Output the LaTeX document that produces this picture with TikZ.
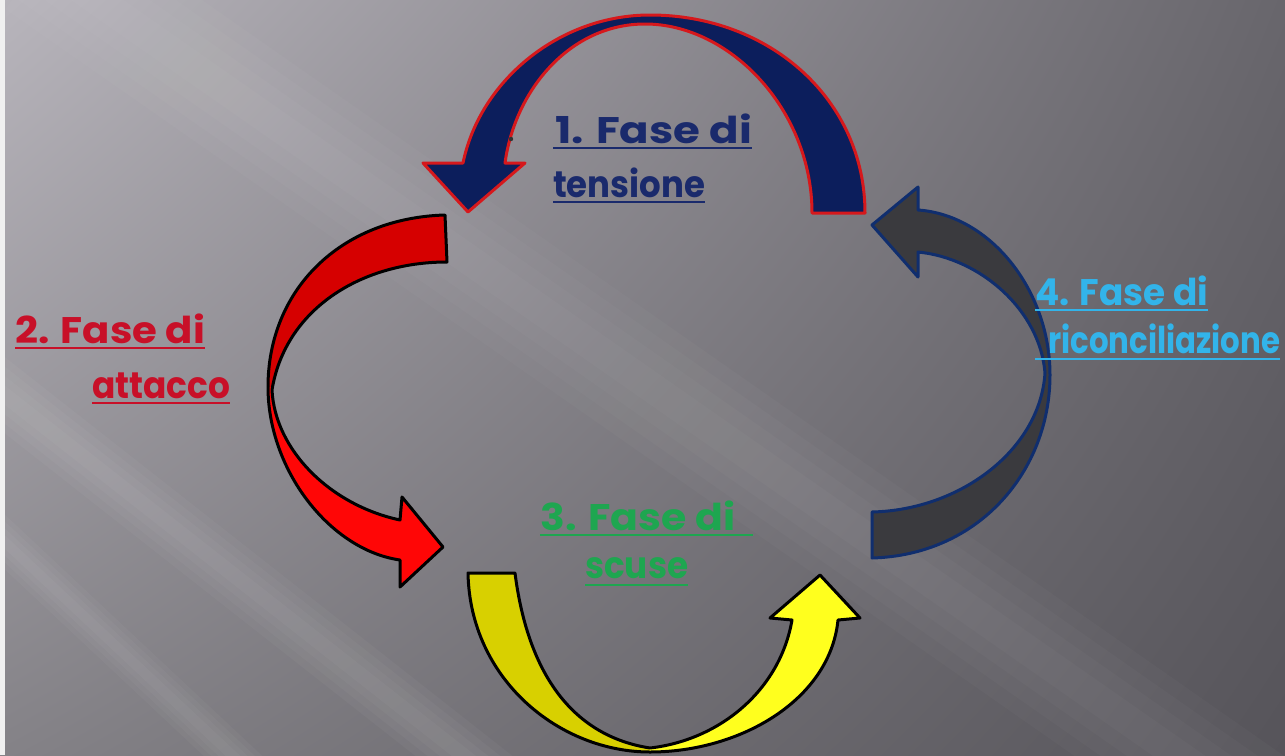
\documentclass[tikz,border=0pt]{standalone}
\usepackage{fontspec}
\setmainfont{Poppins}
\usetikzlibrary{shadings}
\definecolor{bgUL}{RGB}{184,181,188}
\definecolor{bgUR}{RGB}{104,102,108}
\definecolor{bgLL}{RGB}{132,130,135}
\definecolor{bgLR}{RGB}{86,84,90}
\definecolor{navyfill}{RGB}{12,30,92}
\definecolor{redline}{RGB}{214,24,28}
\definecolor{darkred}{RGB}{214,0,0}
\definecolor{brightred}{RGB}{255,6,6}
\definecolor{darkyel}{RGB}{216,208,0}
\definecolor{brightyel}{RGB}{255,255,30}
\definecolor{grayfill}{RGB}{58,58,62}
\definecolor{navyline}{RGB}{16,46,110}
\definecolor{txtnavy}{RGB}{26,42,108}
\definecolor{txtred}{RGB}{200,16,40}
\definecolor{txtgreen}{RGB}{30,166,80}
\definecolor{txtblue}{RGB}{50,180,234}
\newcommand{\fitw}[2]{\resizebox{#1}{\height}{#2}}
\begin{document}
\begin{tikzpicture}[x=1pt,y=-1pt,
  lbl/.style={anchor=base west, inner sep=0pt, font=\fontsize{37}{40}\selectfont\bfseries},
  ul/.style={line width=2.6pt},
  streak/.style={white, line cap=butt},
  blackline/.style={draw=black, line width=3pt, line join=round},
  redoutline/.style={draw=redline, line width=3pt, line join=round},
  navyoutline/.style={draw=navyline, line width=3pt, line join=round}]
\useasboundingbox (0,0) rectangle (1285,755);
% background
\shade[upper left=bgUL, upper right=bgUR, lower left=bgLL, lower right=bgLR] (0,0) rectangle (1285,755);
\begin{scope}
\clip (0,0) rectangle (1285,755);
\foreach \w in {120,90,60,30} {
  \draw[streak, opacity=0.025, line width=\w pt] (40,-40) -- (1500,980);
  \draw[streak, opacity=0.03, line width=\w/2 pt] (-40,360) -- (520,800);
  \draw[streak, opacity=0.03, line width=\w/3 pt] (-40,500) -- (280,800);
}
\end{scope}
\fill[white!88!gray] (0,0) rectangle (5,755);

% paths
\def\pathA{(865,213) .. controls (865,100) and (770,15) .. (650,15) .. controls (560,15) and (480,80) .. (463,163) -- (423,163) -- (468,212) -- (525,163) -- (505,163) .. controls (515,90) and (570,24) .. (645,24) .. controls (730,24) and (812,110) .. (812,213) -- cycle}
\def\pathB{(445,215) .. controls (340,218) and (268,290) .. (268,387) .. controls (268,470) and (330,550) .. (400,560) -- (400,587) -- (443,547) -- (402,497) -- (400,520) .. controls (330,505) and (275,450) .. (272,390) .. controls (285,310) and (360,262) .. (447,262) -- cycle}
\def\pathC{(468,573) .. controls (470,680) and (560,752) .. (650,752) .. controls (740,752) and (830,700) .. (838,620) -- (860,618) -- (820,575) -- (770,618) -- (792,620) .. controls (780,690) and (720,740) .. (650,748) .. controls (585,738) and (530,690) .. (515,573) -- cycle}
\def\pathD{(872,558) .. controls (980,555) and (1050,470) .. (1050,375) .. controls (1050,290) and (990,215) .. (918,210) -- (918,187) -- (872,225) -- (918,277) -- (918,252) .. controls (980,258) and (1040,310) .. (1045,373) .. controls (1040,450) and (960,510) .. (872,512) -- cycle}

% arrow 1 (tensione)
\fill[navyfill] \pathA;
\draw[redoutline] \pathA;
% arrow 2 (attacco)
\fill[brightred] \pathB;
\begin{scope}
\clip (0,0) rectangle (1285,386);
\fill[darkred] \pathB;
\end{scope}
\draw[blackline] \pathB;
% arrow 3 (scuse)
\fill[brightyel] \pathC;
\begin{scope}
\clip (0,0) rectangle (650,755);
\fill[darkyel] \pathC;
\end{scope}
\draw[blackline] \pathC;
% arrow 4 (riconciliazione)
\fill[grayfill] \pathD;
\draw[navyoutline] \pathD;

% labels
\fill[black!80] (511,139) circle (2.2pt);
\node[lbl, text=txtnavy] (t1a) at (555,143) {\fitw{197pt}{1. Fase di}};
\node[lbl, text=txtnavy] (t1b) at (553,197) {\fitw{152pt}{tensione}};
\draw[ul, txtnavy] ([yshift=-5pt,xshift=-2pt]t1a.base west) -- ([yshift=-5pt]t1a.base east);
\draw[ul, txtnavy] ([yshift=-5pt]t1b.base west) -- ([yshift=-5pt]t1b.base east);

\node[lbl, text=txtred] (t2a) at (15,343) {\fitw{190pt}{2. Fase di}};
\node[lbl, text=txtred] (t2b) at (92,398) {\fitw{138pt}{attacco}};
\draw[ul, txtred] ([yshift=-5pt]t2a.base west) -- ([yshift=-5pt]t2a.base east);
\draw[ul, txtred] ([yshift=-5pt]t2b.base west) -- ([yshift=-5pt]t2b.base east);

\node[lbl, text=txtgreen] (t3a) at (540,530) {\fitw{195pt}{3. Fase di}};
\node[lbl, text=txtgreen] (t3b) at (585,578) {\fitw{103pt}{scuse}};
\draw[ul, txtgreen] ([yshift=-5pt]t3a.base west) -- ([yshift=-5pt,xshift=18pt]t3a.base east);
\draw[ul, txtgreen] ([yshift=-7pt]t3b.base west) -- ([yshift=-7pt]t3b.base east);

\node[lbl, text=txtblue] (t4a) at (1035,305) {\fitw{173pt}{4. Fase di}};
\node[lbl, text=txtblue] (t4b) at (1048,353) {\fitw{232pt}{riconciliazione}};
\draw[ul, txtblue] ([yshift=-5pt]t4a.base west) -- ([yshift=-5pt]t4a.base east);
\draw[ul, txtblue] ([yshift=-6pt,xshift=-13pt]t4b.base west) -- ([yshift=-6pt]t4b.base east);
\end{tikzpicture}
\end{document}
